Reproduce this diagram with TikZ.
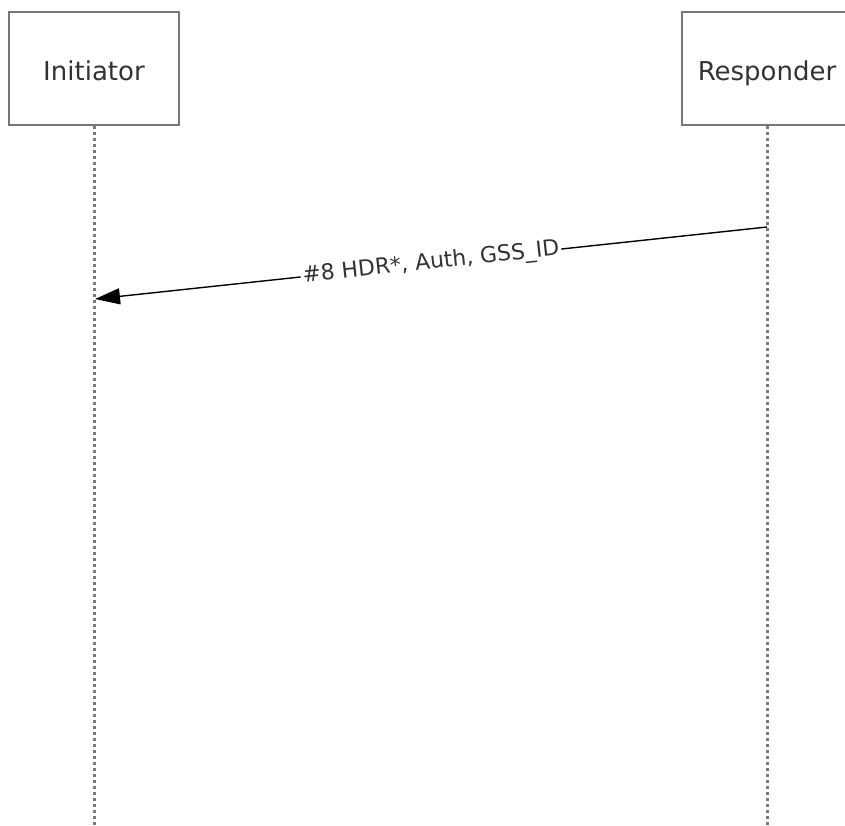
\documentclass[tikz,border=0pt]{standalone}
\usepackage{fontspec}
\setmainfont{DejaVu Sans}
\usepackage{xcolor}
\usepackage{tikz}
\usetikzlibrary{arrows.meta,positioning,calc}

\definecolor{boxgray}{HTML}{777777}
\definecolor{linegray}{HTML}{7A7A7A}
\definecolor{txtgray}{HTML}{333333}

\begin{document}
\begin{tikzpicture}[x=1pt, y=-1pt,
  actor/.style={draw=boxgray, line width=2pt, fill=white, minimum width=170pt,
    minimum height=113pt, text=txtgray, text height=24pt, text depth=0pt,
    font=\fontsize{26}{30}\selectfont},
  lifeline/.style={draw=linegray, line width=3pt, dash pattern=on 3pt off 3pt},
  msg/.style={line width=1.4pt, -{Triangle[length=25pt,width=16pt]}},
  msglabel/.style={sloped, fill=white, inner sep=2pt, text=txtgray,
    font=\fontsize{22}{26}\selectfont}]
  \useasboundingbox (0,0) rectangle (845,825);
  % actors
  \node[actor] (init) at (94,68.5) {Initiator};
  \node[actor] (resp) at (767,68.5) {Responder};
  % lifelines
  \coordinate (initend) at (94,825);
  \coordinate (respend) at (767,825);
  \draw[lifeline] (init.south) -- (initend);
  \draw[lifeline] (resp.south) -- (respend);
  % message #8
  \coordinate (m8s) at (767,227);
  \coordinate (m8e) at (95,299);
  \draw[msg] (m8s) -- node[msglabel] {\#8 HDR*, Auth, GSS\_ID} (m8e);
\end{tikzpicture}
\end{document}
